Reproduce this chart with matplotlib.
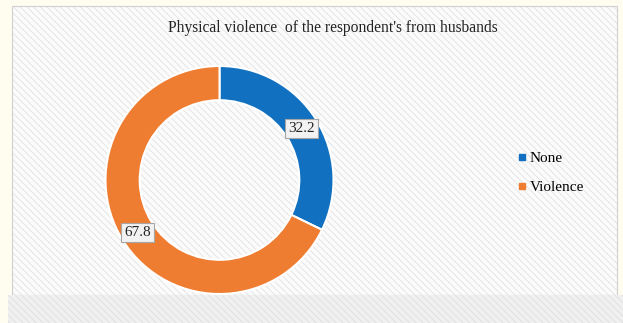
import matplotlib.pyplot as plt
from matplotlib.patches import Rectangle

labels = ["None", "Violence"]
values = [32.2, 67.8]
colors = ["#1170c0", "#ef7d31"]
title = "Physical violence  of the respondent's from husbands"

plt.rcParams['font.family'] = ['Liberation Serif', 'DejaVu Serif']
plt.rcParams['hatch.linewidth'] = 0.6

fig = plt.figure(figsize=(6.23, 3.23), dpi=100, facecolor='#fffdf0')

# chart area background with diagonal hatch
fig.patches.append(Rectangle((12/623, 28/323), 605/623, 289/323, transform=fig.transFigure,
                             facecolor='#fbfbfb', edgecolor='#e2e2e2', hatch='\\\\\\\\\\', lw=0, zorder=0))
fig.patches.append(Rectangle((12/623, 28/323), 605/623, 289/323, transform=fig.transFigure,
                             facecolor='none', edgecolor='#d0d0d0', lw=0.8, zorder=0))
fig.patches.append(Rectangle((8/623, 0), 615/623, 28/323, transform=fig.transFigure,
                             facecolor='#f0f0f0', edgecolor='#dedede', hatch='\\\\\\\\\\', lw=0, zorder=0))

fig.text(333/623, 1 - 28/323, title, ha='center', va='center', fontsize=11.2, color='#222222')

cx, cy, r = 219.5, 180, 114
ax = fig.add_axes([(cx - r) / 623, (323 - cy - r) / 323, 2 * r / 623, 2 * r / 323], zorder=2)
ax.patch.set_visible(False)
wedges, _ = ax.pie(values, colors=colors, startangle=90, counterclock=False,
                   wedgeprops=dict(width=0.30, edgecolor='white', linewidth=1.5))
ax.set_xlim(-1, 1)
ax.set_ylim(-1, 1)
ax.set_aspect('equal')

label_pos = [(0.72, 0.45), (-0.72, -0.46)]
for (x, y), v in zip(label_pos, values):
    ax.text(x, y, f"{v}", ha='center', va='center', fontsize=11, color='#222222',
            bbox=dict(boxstyle='square,pad=0.2', facecolor='#f2f2f2', edgecolor='#a6a6a6', lw=0.8))

handles = [plt.Line2D([], [], marker='s', ls='', color=c, markersize=4) for c in colors]
leg = fig.legend(handles, labels, loc='center left', bbox_to_anchor=(502/623, 1 - 173/323),
                 frameon=False, fontsize=11, handletextpad=0.1, labelspacing=1.0, handlelength=0.8)
leg.set_zorder(3)

fig.savefig('out.png', dpi=100, facecolor=fig.get_facecolor())
